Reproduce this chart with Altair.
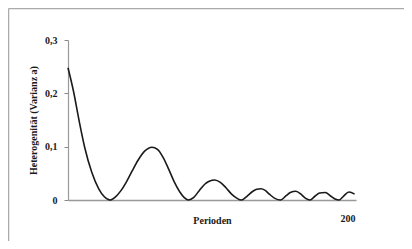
import altair as alt
import pandas as pd

perioden = [0, 4, 8, 12, 17, 22, 26, 30, 34, 38, 42, 46, 50, 55, 60, 64, 68, 72, 76,
            80, 83, 86, 90, 94, 98, 101, 105, 109, 113, 117, 121, 124, 128, 132,
            135, 138, 141, 144, 148, 152, 156, 159, 163, 167, 170, 173, 177, 180,
            184, 188, 191, 194, 197, 201, 205]
varianz = [0.248, 0.203, 0.148, 0.098, 0.052, 0.021, 0.006, 0.0, 0.006, 0.018, 0.035,
           0.055, 0.074, 0.092, 0.099, 0.095, 0.08, 0.058, 0.034,
           0.015, 0.005, 0.0, 0.005, 0.018, 0.03, 0.035, 0.0375, 0.033, 0.023,
           0.011, 0.003, 0.0, 0.007, 0.016, 0.02, 0.021, 0.018, 0.011, 0.003, 0.0,
           0.008, 0.014, 0.0165, 0.01, 0.003, 0.0, 0.008, 0.013, 0.014, 0.007,
           0.002, 0.0, 0.007, 0.015, 0.011]
y_ticks = [0, 0.1, 0.2, 0.3]
x_ticks = [200]

df = pd.DataFrame({"Perioden": perioden, "Varianz": varianz})

W, H = 288, 160
PAD = {"left": 60, "top": 32, "right": 396 - 60 - W, "bottom": 233 - 32 - H}

font = "Liberation Serif"

line = alt.Chart(df).mark_line(
    color="#1a1a1a", strokeWidth=1.6, interpolate="monotone"
).encode(
    x=alt.X("Perioden:Q",
            scale=alt.Scale(domain=[0, 206], nice=False, zero=True),
            axis=alt.Axis(values=x_ticks, ticks=False, grid=False,
                          labelPadding=13, labelFontSize=10, labelFont=font,
                          labelFontWeight="bold", labelColor="#1a1a1a",
                          domainColor="#999999", domainWidth=1.5,
                          title="Perioden", titleFont=font, titleFontSize=10,
                          titleFontWeight="bold", titleColor="#1a1a1a",
                          titleBaseline="alphabetic", titleY=23)),
    y=alt.Y("Varianz:Q",
            scale=alt.Scale(domain=[0, 0.3], nice=False),
            axis=alt.Axis(values=y_ticks, grid=False, tickSize=4,
                          tickColor="#888888", domainColor="#999999",
                          domainWidth=1.2,
                          labelExpr="datum.value == 0 ? '0' : replace(format(datum.value, '.1f'), '.', ',')",
                          labelPadding=7, labelFontSize=10, labelFont=font,
                          labelFontWeight="bold", labelColor="#1a1a1a",
                          title="Heterogenität (Varianz a)", titleFont=font,
                          titleFontSize=10, titleFontWeight="bold",
                          titleColor="#1a1a1a", titlePadding=6)),
)

frame_df = pd.DataFrame({"k": [0]})
top_border = alt.Chart(frame_df).mark_rule(color="#aaaaaa", strokeWidth=1.5).encode(
    x=alt.value(-59.5), x2=alt.value(396 - 60), y=alt.value(-31.5)
)
left_border = alt.Chart(frame_df).mark_rule(color="#aaaaaa", strokeWidth=1.5).encode(
    x=alt.value(-59.5), y=alt.value(-31.5), y2=alt.value(233 - 32)
)

chart = alt.layer(line, top_border, left_border).properties(
    width=W, height=H, padding=PAD, background="white",
    autosize=alt.AutoSizeParams(type="none"),
).configure_view(stroke=None)

chart.save("out.html", embed_options={"renderer": "svg", "actions": False})
